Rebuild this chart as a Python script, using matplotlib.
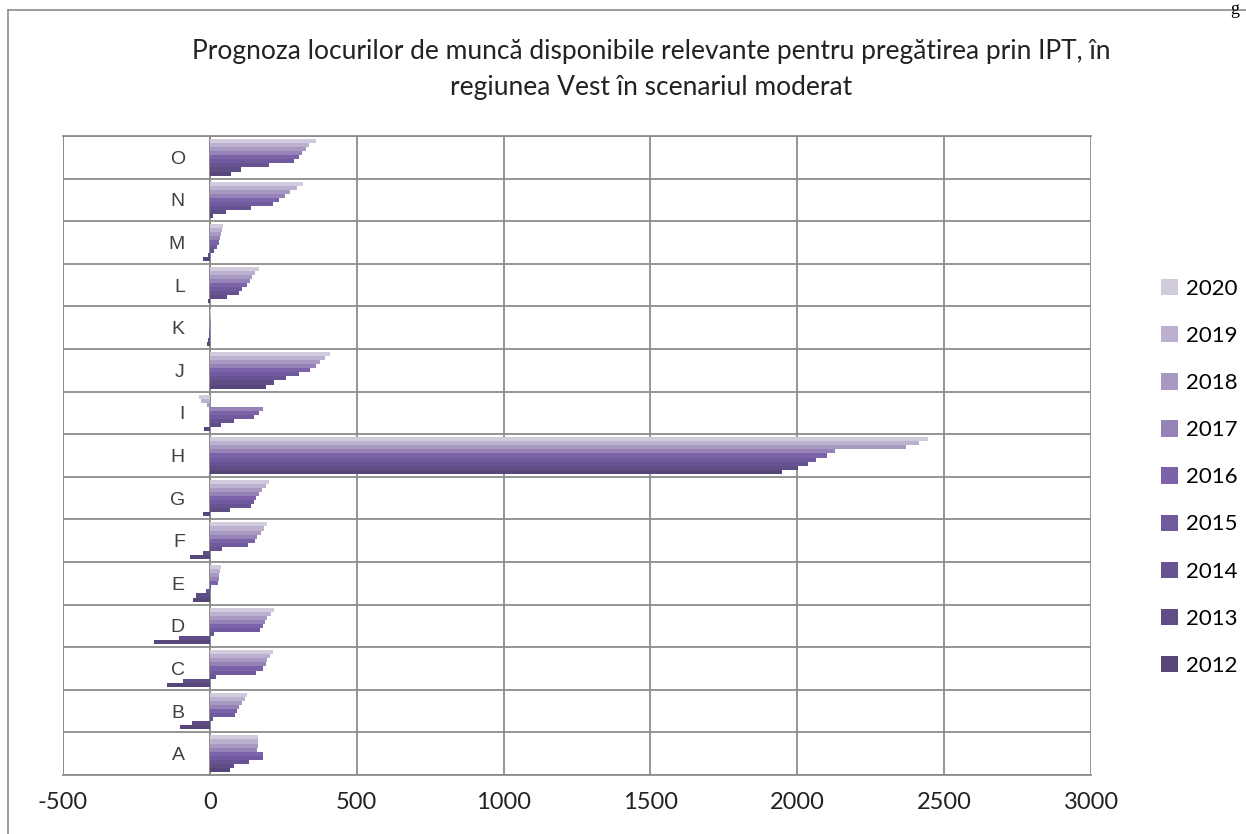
import numpy as np
import matplotlib
matplotlib.use("Agg")
from matplotlib import pyplot as plt

# categories (bottom to top) and series
categories = ['A', 'B', 'C', 'D', 'E', 'F', 'G', 'H', 'I', 'J', 'K', 'L', 'M', 'N', 'O']
years = ['2012', '2013', '2014', '2015', '2016', '2017', '2018', '2019', '2020']

v2012 = [69, -100, -146, -190, -59, -67, -25, 1948, -20, 190, -10, -5, -22, 10, 71]
v2013 = [83, -62, -93, -105, -48, -25, 70, 2002, 37, 220, -6, 60, -8, 55, 105]
v2014 = [134, 9, 20, 15, -14, 43, 140, 2038, 83, 260, -4, 100, 15, 140, 202]
v2015 = [180, 85, 156, 170, 5, 130, 150, 2065, 150, 305, -2, 110, 25, 215, 287]
v2016 = [182, 92, 180, 180, 28, 155, 158, 2100, 168, 340, 2, 125, 30, 235, 304]
v2017 = [162, 100, 190, 188, 30, 162, 167, 2127, 182, 360, 3, 135, 35, 255, 315]
v2018 = [163, 110, 196, 196, 32, 173, 178, 2369, -10, 375, 4, 145, 38, 272, 326]
v2019 = [164, 118, 205, 207, 35, 185, 190, 2414, -30, 392, 5, 155, 42, 295, 338]
v2020 = [164, 126, 216, 219, 37, 194, 202, 2444, -38, 410, 5, 168, 45, 318, 360]

series = [v2012, v2013, v2014, v2015, v2016, v2017, v2018, v2019, v2020]
colors = ['#574679', '#5f4d86', '#675391', '#6f5a9e', '#7c62a9', '#9582b6',
          '#a899c2', '#bbb1cf', '#d1cbdd']

fig = plt.figure(figsize=(12.46, 8.34), dpi=100)

# outer chart border
fig.add_artist(plt.Line2D([8 / 1246, 8 / 1246], [0, 1 - 10 / 834], color='#8c8c8c', lw=1.2))
fig.add_artist(plt.Line2D([8 / 1246, 1], [1 - 10 / 834, 1 - 10 / 834], color='#8c8c8c', lw=1.2))
fig.text(1230 / 1246, 1 - 1 / 834, 'g', family='Liberation Serif', fontsize=13, va='top', ha='left')

ax = fig.add_axes([63 / 1246, 1 - 775 / 834, (1091 - 63) / 1246, (775 - 136) / 834])
ax.spines['left'].set_position(('data', 0))

y = np.arange(len(categories))
group = 0.86
h = group / len(series)
for i, vals in enumerate(series):
    ax.barh(y - group / 2 + h * (i + 0.5), vals, height=h, color=colors[i], label=years[i], zorder=3)

ax.set_xlim(-500, 3000)
ax.set_ylim(-0.5, len(categories) - 0.5)
ax.set_xticks(np.arange(-500, 3001, 500))
ax.set_xticklabels([str(v) for v in range(-500, 3001, 500)], family='Lato', fontsize=17, color='#222222')
ax.tick_params(axis='x', length=0, pad=12)
ax.set_yticks(y)
ax.set_yticks(np.arange(-0.5, len(categories), 1), minor=True)
ax.set_yticklabels(categories, family='Liberation Sans', fontsize=14, color='#404040')
ax.tick_params(axis='y', which='major', length=0, pad=18)
ax.tick_params(axis='y', which='minor', length=0)
ax.grid(axis='x', color='#8c8c8c', lw=1.3, zorder=0)
ax.grid(axis='y', which='minor', color='#8c8c8c', lw=1.3, zorder=0)
for s in ['top', 'right', 'bottom', 'left']:
    ax.spines[s].set_color('#8c8c8c')
    ax.spines[s].set_linewidth(1.3)
ax.spines['right'].set_visible(False)
ax.axvline(-500, color='#8c8c8c', lw=1.3)

fig.text(651 / 1246, 1 - 52 / 834, 'Prognoza locurilor de muncă disponibile relevante pentru pregătirea prin IPT, în',
         family='Lato', fontsize=19, ha='center', va='center', color='#222222')
fig.text(651 / 1246, 1 - 88 / 834, 'regiunea Vest în scenariul moderat',
         family='Lato', fontsize=19, ha='center', va='center', color='#222222')

handles, labels = ax.get_legend_handles_labels()
leg = fig.legend(handles[::-1], labels[::-1], loc='upper left', bbox_to_anchor=(1152 / 1246, 1 - 270 / 834),
                 frameon=False, prop={'family': 'Lato', 'size': 16}, handlelength=0.75, handleheight=0.75,
                 handletextpad=0.4, labelspacing=1.22, borderaxespad=0)

fig.savefig('out.png', dpi=100)
